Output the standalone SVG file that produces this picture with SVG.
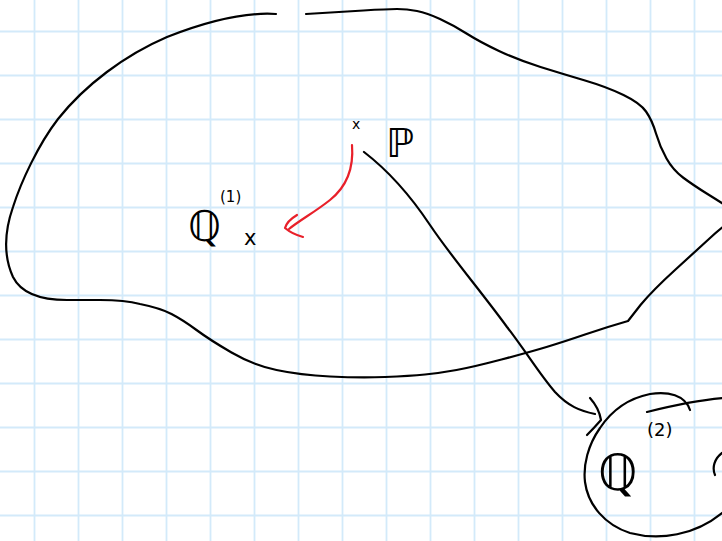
<svg xmlns="http://www.w3.org/2000/svg" width="722" height="541" viewBox="0 0 722 541">
<defs>
<style>
.grid line{stroke:#d3eafa;stroke-width:1.8}
.ink{fill:none;stroke:#000;stroke-width:2.2;stroke-linecap:round;stroke-linejoin:round}
.red{fill:none;stroke:#e8202a;stroke-width:2.2;stroke-linecap:round;stroke-linejoin:round}
.t{font-family:"DejaVu Sans","Noto Sans",sans-serif;fill:#000}
</style>
</defs>
<rect width="722" height="541" fill="#fff"/>
<g class="grid">
<line x1="34.5" y1="0" x2="34.5" y2="541"/><line x1="78.5" y1="0" x2="78.5" y2="541"/><line x1="122.5" y1="0" x2="122.5" y2="541"/><line x1="166.5" y1="0" x2="166.5" y2="541"/><line x1="210.5" y1="0" x2="210.5" y2="541"/><line x1="254.5" y1="0" x2="254.5" y2="541"/><line x1="298.5" y1="0" x2="298.5" y2="541"/><line x1="342.5" y1="0" x2="342.5" y2="541"/><line x1="386.5" y1="0" x2="386.5" y2="541"/><line x1="430.5" y1="0" x2="430.5" y2="541"/><line x1="474.5" y1="0" x2="474.5" y2="541"/><line x1="518.5" y1="0" x2="518.5" y2="541"/><line x1="562.5" y1="0" x2="562.5" y2="541"/><line x1="606.5" y1="0" x2="606.5" y2="541"/><line x1="650.5" y1="0" x2="650.5" y2="541"/><line x1="694.5" y1="0" x2="694.5" y2="541"/>
<line x1="0" y1="31.5" x2="722" y2="31.5"/><line x1="0" y1="75.5" x2="722" y2="75.5"/><line x1="0" y1="119.5" x2="722" y2="119.5"/><line x1="0" y1="163.5" x2="722" y2="163.5"/><line x1="0" y1="207.5" x2="722" y2="207.5"/><line x1="0" y1="251.5" x2="722" y2="251.5"/><line x1="0" y1="295.5" x2="722" y2="295.5"/><line x1="0" y1="339.5" x2="722" y2="339.5"/><line x1="0" y1="383.5" x2="722" y2="383.5"/><line x1="0" y1="427.5" x2="722" y2="427.5"/><line x1="0" y1="471.5" x2="722" y2="471.5"/><line x1="0" y1="515.5" x2="722" y2="515.5"/>
</g>
<g id="region">
<path class="ink" d="M306,14 Q340,12 363.5,10.5 Q387,9 397,9 Q407,9 417,11 Q427,13 440,19 Q453,25 466.5,33.5 Q480,42 499,51 Q518,60 540.5,67 Q563,74 585,80.5 Q607,87 623.5,95 Q640,103 646,111.5 Q652,120 656,133.5 Q660,147 666.5,158.5 Q673,170 683,177.5 Q693,185 707.5,194 Q722,203 731,209 Q740,215 731,221 Q722,227 709.5,238.5 Q697,250 675,270 Q653,290 640.5,305 L628,321 Q607,327 585,334.5 Q563,342 546.5,347 Q530,352 501.5,359.5 Q473,367 456.5,370 Q440,373 425,374.5 Q410,376 385,377 Q360,378 330,376.5 Q300,375 276.5,370 Q253,365 231.5,352.5 Q210,340 196.5,330 Q183,320 171.5,314 Q160,308 140,304 Q125,300 100,300 C90,300 78,300 67,300 C45,300 22,295 13,277 C3,255 5,230 13,207 C21,182 38,145 58,119 C85,85 125,55 167,37 C205,22 245,12 276,14"/>
</g>
<g id="node-P">
<text class="t" x="352" y="129" font-size="14">x</text>
<text class="t" x="386" y="157" font-size="40">ℙ</text>
</g>
<g id="node-Q1">
<text class="t" x="188" y="241" font-size="42">ℚ</text>
<text class="t" x="220" y="202" font-size="15">(1)</text>
<text class="t" x="244" y="245" font-size="21">x</text>
</g>
<g id="node-Q2">
<path class="ink" d="M690,410 C685,395 668,391 650,394 C630,398 612,410 600,428 C588,445 583,465 585,482 C588,505 605,525 630,533 C660,541 695,535 722,513"/>
<path class="ink" d="M647,412 C675,405 700,400 724,398"/>
<text class="t" x="598" y="490" font-size="50">ℚ</text>
<text class="t" x="647" y="436" font-size="18">(2)</text>
<path class="ink" d="M722,453 C714,459 712,468 715,475"/>
</g>
<g id="connectors">
<path class="red" d="M352,145 C354,170 345,188 330,200 C315,212 300,220 289,229"/>
<path class="red" d="M297,215 Q287,221 285,228 Q292,234 303,237"/>
<path class="ink" d="M364,152 C390,172 410,195 430,225 C450,255 480,290 507,327 C525,350 540,375 555,392 C568,406 580,411 595,414"/>
<path class="ink" d="M590,398 Q599,408 601,420 Q594,428 587,435"/>
</g>
</svg>
